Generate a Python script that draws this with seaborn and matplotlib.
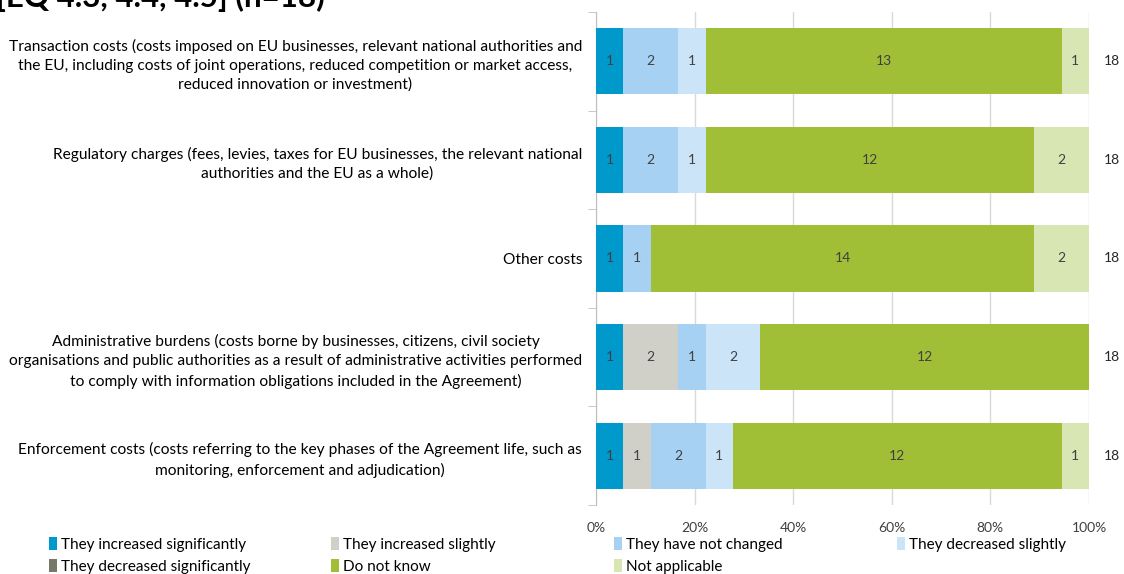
import numpy as np
import pandas as pd
import matplotlib
matplotlib.use("Agg")
import matplotlib.pyplot as plt
import seaborn as sns
from matplotlib.patches import Patch
from matplotlib.ticker import PercentFormatter, FixedLocator

# Data
categories = [
    "Transaction costs (costs imposed on EU businesses, relevant national authorities and\n"
    "the EU, including costs of joint operations, reduced competition or market access,\n"
    "reduced innovation or investment)",
    "Regulatory charges (fees, levies, taxes for EU businesses, the relevant national\n"
    "authorities and the EU as a whole)",
    "Other costs",
    "Administrative burdens (costs borne by businesses, citizens, civil society\n"
    "organisations and public authorities as a result of administrative activities performed\n"
    "to comply with information obligations included in the Agreement)",
    "Enforcement costs (costs referring to the key phases of the Agreement life, such as\n"
    "monitoring, enforcement and adjudication)",
]
series_names = [
    "They increased significantly",
    "They increased slightly",
    "They have not changed",
    "They decreased slightly",
    "They decreased significantly",
    "Do not know",
    "Not applicable",
]
inc_sig = [1, 1, 1, 1, 1]
inc_slight = [0, 0, 0, 2, 1]
not_changed = [2, 2, 1, 1, 2]
dec_slight = [1, 1, 0, 2, 1]
dec_sig = [0, 0, 0, 0, 0]
dont_know = [13, 12, 14, 12, 12]
not_applicable = [1, 2, 2, 0, 1]
totals = [18, 18, 18, 18, 18]

colors = ["#0099CC", "#D0CFC8", "#A6D1F2", "#CCE4F7", "#77776B", "#A1BE37", "#D8E6B3"]

df = pd.DataFrame(
    np.array([inc_sig, inc_slight, not_changed, dec_slight, dec_sig, dont_know, not_applicable]).T,
    columns=series_names,
)
df["category"] = categories
share = df[series_names].div(totals, axis=0)
cum = share.cumsum(axis=1)

plt.rcParams["font.family"] = ["Lato", "DejaVu Sans"]

fig = plt.figure(figsize=(11.24, 5.74), dpi=100)
ax = fig.add_axes([596 / 1124, 69 / 574, 493 / 1124, 493 / 574])

# stack by drawing cumulative bars from longest to shortest
for name, col in reversed(list(zip(series_names, colors))):
    sns.barplot(x=cum[name], y=df["category"], color=col, orient="h",
                width=0.67, ax=ax, saturation=1, linewidth=0, zorder=3)

# segment labels
for i in range(len(categories)):
    for name in series_names:
        v = df.loc[i, name]
        if v > 0:
            xc = cum.loc[i, name] - share.loc[i, name] / 2
            ax.text(xc, i, str(v), ha="center", va="center", fontsize=10,
                    color="#404040", zorder=4)
    ax.text(1.047, i, str(totals[i]), transform=ax.get_yaxis_transform(),
            ha="center", va="center", fontsize=10, color="#262626")

ax.set_xlim(0, 1)
ax.set_ylim(4.5, -0.5)
ax.xaxis.set_major_locator(FixedLocator([0, 0.2, 0.4, 0.6, 0.8, 1.0]))
ax.xaxis.set_major_formatter(PercentFormatter(1.0, decimals=0))
ax.grid(axis="x", color="#D9D9D9", linewidth=1, zorder=0)
ax.set_axisbelow(True)
ax.set_xlabel("")
ax.set_ylabel("")
for s in ["top", "right", "bottom"]:
    ax.spines[s].set_visible(False)
ax.spines["left"].set_color("#BFBFBF")
ax.tick_params(axis="x", length=0, pad=12, labelsize=10, labelcolor="#404040")
ax.tick_params(axis="y", length=0, pad=10, labelsize=11.2, labelcolor="#000000")
ax.set_yticks(range(len(categories)))
ax.set_yticklabels(categories)
for lab in ax.get_yticklabels():
    lab.set_horizontalalignment("right")
    lab.set_multialignment("center")
    lab.set_linespacing(1.45)
ax.yaxis.set_minor_locator(FixedLocator(np.arange(-0.5, 5, 1)))
ax.tick_params(axis="y", which="minor", length=6, color="#BFBFBF", direction="out")

# legend, one small legend per column
col_x = [49, 331, 614, 897]
for j, x0 in enumerate(col_x):
    idx = [k for k in (j, j + 4) if k < len(series_names)]
    handles = [Patch(facecolor=colors[k], edgecolor="none") for k in idx]
    fig.legend(handles, [series_names[k] for k in idx], loc="upper left",
               bbox_to_anchor=(x0 / 1124, 1 - 537 / 574), frameon=False,
               handlelength=0.5, handleheight=0.9, handletextpad=0.3,
               labelspacing=0.5, borderpad=0, borderaxespad=0, fontsize=11)

fig.text(-0.004, 1 - 7 / 574, "[EQ 4.3, 4.4, 4.5] (n=18)", fontsize=22.5,
         fontweight="bold", va="baseline", ha="left")

fig.savefig("out.png", dpi=100)
